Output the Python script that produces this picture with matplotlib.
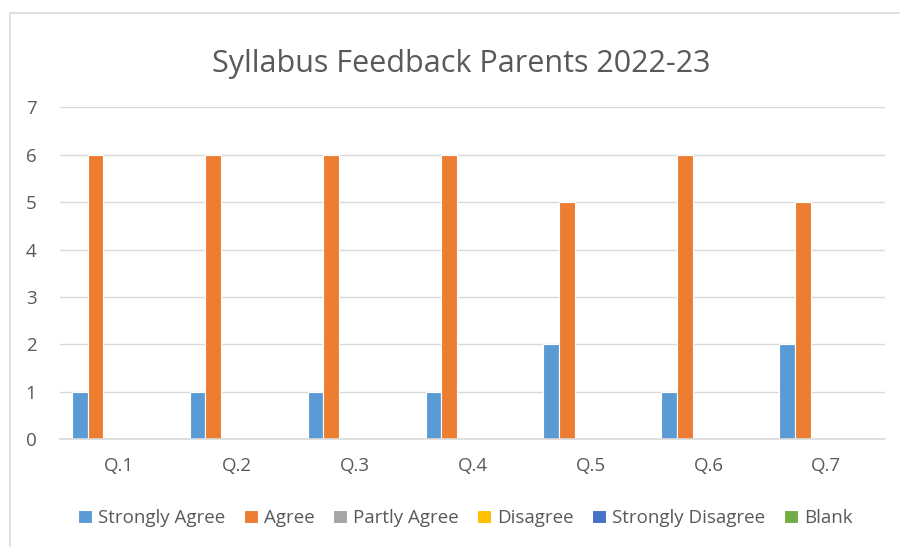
# Gráfico de colunas agrupadas: feedback do syllabus (pais), 2022-23.

import matplotlib
matplotlib.use("Agg")
import matplotlib.pyplot as plt
import numpy as np
from matplotlib.patches import Rectangle

# Dados
CATEGORIAS = ["Q.1", "Q.2", "Q.3", "Q.4", "Q.5", "Q.6", "Q.7"]
SERIES = ["Strongly Agree", "Agree", "Partly Agree", "Disagree",
          "Strongly Disagree", "Blank"]
STRONGLY_AGREE = [1, 1, 1, 1, 2, 1, 2]
AGREE = [6, 6, 6, 6, 5, 6, 5]
PARTLY_AGREE = [0, 0, 0, 0, 0, 0, 0]
DISAGREE = [0, 0, 0, 0, 0, 0, 0]
STRONGLY_DISAGREE = [0, 0, 0, 0, 0, 0, 0]
BLANK = [0, 0, 0, 0, 0, 0, 0]
VALORES = [STRONGLY_AGREE, AGREE, PARTLY_AGREE, DISAGREE,
           STRONGLY_DISAGREE, BLANK]

CORES = ["#5B9BD5", "#ED7D31", "#A5A5A5", "#FFC000", "#4472C4", "#70AD47"]
COR_TEXTO = "#595959"
COR_GRADE = "#D9D9D9"

plt.rcParams["font.family"] = ["Open Sans", "DejaVu Sans"]

figura = plt.figure(figsize=(9, 5.47), dpi=100)
eixo = figura.add_axes([0.0667, 0.197, 0.917, 0.607])

# moldura da área do gráfico
figura.patches.append(Rectangle((10 / 900, -0.1), 1.2, 1.1 - 13 / 547,
                                transform=figura.transFigure, fill=False,
                                edgecolor="#D9D9D9", linewidth=1.2))

x = np.arange(len(CATEGORIAS))
passo = 0.8 / len(SERIES)
for i, (nome, valores, cor) in enumerate(zip(SERIES, VALORES, CORES)):
    deslocamento = (i - (len(SERIES) - 1) / 2) * passo
    eixo.bar(x + deslocamento, valores, width=passo, color=cor,
             edgecolor="white", linewidth=0.8, label=nome, zorder=3)

eixo.set_xlim(-0.5, len(CATEGORIAS) - 0.5)
eixo.set_ylim(0, 7)
eixo.set_yticks(range(8))
eixo.set_xticks(x)
eixo.set_xticklabels(CATEGORIAS)
eixo.grid(axis="y", color=COR_GRADE, linewidth=1, zorder=0)
for lado in ["left", "right", "top"]:
    eixo.spines[lado].set_visible(False)
eixo.spines["bottom"].set_color(COR_GRADE)
eixo.spines["bottom"].set_linewidth(1.2)
eixo.spines["bottom"].set_zorder(4)
eixo.tick_params(axis="both", length=0, labelsize=13.5, colors=COR_TEXTO)
eixo.tick_params(axis="x", pad=13)
eixo.tick_params(axis="y", pad=17)

figura.suptitle("Syllabus Feedback Parents 2022-23", x=0.513, y=0.91,
                fontsize=22, color=COR_TEXTO)

figura.legend(loc="center", bbox_to_anchor=(0.517, 0.053), ncol=6,
              frameon=False, fontsize=13.5, labelcolor=COR_TEXTO,
              handlelength=0.75, handleheight=0.75, handletextpad=0.3,
              columnspacing=1.0)

figura.savefig("out.png", dpi=100)
